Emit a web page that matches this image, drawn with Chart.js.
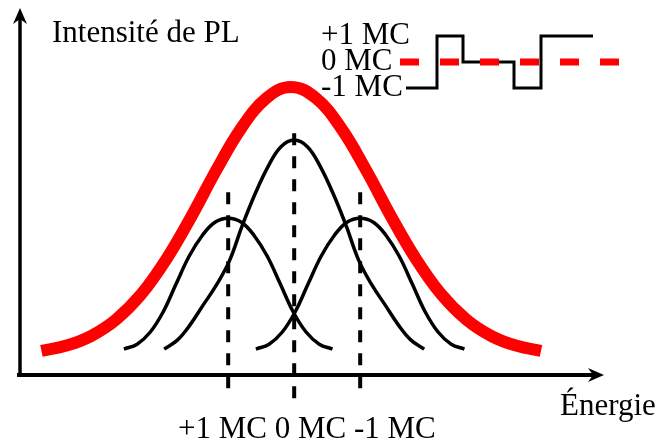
<!DOCTYPE html>
<html lang="fr">
<head>
<meta charset="utf-8">
<title>Intensité de PL</title>
<script src="https://cdn.jsdelivr.net/npm/chart.js@4.4.1/dist/chart.umd.min.js"></script>
<style>
  html, body { margin: 0; padding: 0; background: #fff; }
  #wrap { position: relative; width: 657px; height: 446px; }
  #plChart { position: absolute; left: 0; top: 0; }
  #mcChart { position: absolute; left: 300px; top: 0; }
</style>
</head>
<body>
<div id="wrap">
  <canvas id="plChart" width="657" height="446"></canvas>
  <canvas id="mcChart" width="357" height="120"></canvas>
</div>
<script>
// Énergie en unités arbitraires (0 = raie 0 MC), intensité normalisée
var envelopeX = [-3.83, -3.45, -3.08, -2.70, -2.32, -1.94, -1.56, -1.18, -0.80, -0.42, -0.05,
                 0.33, 0.71, 1.09, 1.47, 1.85, 2.23, 2.61, 2.99, 3.36, 3.74];
var envelopeY = [0.084, 0.102, 0.135, 0.192, 0.279, 0.400, 0.548, 0.709, 0.855, 0.958, 0.997,
                 0.958, 0.855, 0.709, 0.548, 0.400, 0.279, 0.192, 0.135, 0.102, 0.084];

// raie 0 MC
var zeroX = [-1.97, -1.77, -1.58, -1.38, -1.18, -0.98, -0.79, -0.59, -0.39, -0.20, 0,
             0.20, 0.39, 0.59, 0.79, 0.98, 1.18, 1.38, 1.58, 1.77, 1.97];
var zeroY = [0.090, 0.121, 0.173, 0.242, 0.311, 0.396, 0.515, 0.628, 0.724, 0.790, 0.813,
             0.790, 0.724, 0.628, 0.515, 0.396, 0.311, 0.242, 0.173, 0.121, 0.090];

// raie +1 MC (côté basse énergie)
var plusX = [-2.58, -2.38, -2.18, -1.98, -1.79, -1.59, -1.39, -1.20, -1.00,
             -0.80, -0.61, -0.41, -0.21, -0.02, 0.18, 0.38, 0.58];
var plusY = [0.090, 0.107, 0.149, 0.221, 0.315, 0.412, 0.484, 0.529, 0.543,
             0.529, 0.484, 0.412, 0.315, 0.221, 0.149, 0.107, 0.090];

// raie -1 MC (côté haute énergie)
var minusX = [-0.58, -0.38, -0.18, 0.02, 0.21, 0.41, 0.61, 0.80, 1.00,
              1.20, 1.39, 1.59, 1.79, 1.98, 2.18, 2.38, 2.58];
var minusY = [0.090, 0.107, 0.149, 0.221, 0.315, 0.412, 0.484, 0.529, 0.543,
              0.529, 0.484, 0.412, 0.315, 0.221, 0.149, 0.107, 0.090];

// repères verticaux pointillés sous chaque raie
var markerX = [-1, 0, 1];
var markerTop = [0.633, 0.837, 0.633];
var markerBottom = [-0.069, -0.087, -0.069];
var energyLabels = ['+1 MC', '0 MC', '-1 MC'];

// encart : trajectoire de charge du puits (MC) en fonction du temps
var mcTime = [0.6, 3.7, 6.3, 11.4, 14.1, 19.3];
var mcState = [-1, 1, 0, -1, 1, 1];
var meanTime = [0, 21.9];
var meanState = [0, 0];
var mcLevels = [1, 0, -1];
var mcLabels = ['+1 MC', '0 MC', '-1 MC'];

var serif = '"Liberation Serif", "Times New Roman", "DejaVu Serif", serif';

function pts(xs, ys) {
    return xs.map(function(x, i) { return { x: x, y: ys[i] }; });
}

function arrowHead(ctx, x, y, angle) {
    ctx.save();
    ctx.translate(x, y);
    ctx.rotate(angle);
    ctx.beginPath();
    ctx.moveTo(0, 0);
    ctx.lineTo(-7, 16);
    ctx.lineTo(0, 11);
    ctx.lineTo(7, 16);
    ctx.closePath();
    ctx.fill();
    ctx.restore();
}

// axes fléchés + textes
var axesPlugin = {
    id: 'axesArrows',
    beforeDatasetsDraw: function(chart) {
        var ctx = chart.ctx;
        var area = chart.chartArea;
        var ys = chart.scales.y;
        var y0 = ys.getPixelForValue(0);
        var xTip = area.right - 3;
        var yAxisX = area.left + 3;
        var yTip = area.top;

        ctx.save();
        ctx.strokeStyle = '#000';
        ctx.fillStyle = '#000';
        ctx.lineWidth = 4;
        ctx.lineCap = 'butt';
        ctx.beginPath();
        ctx.moveTo(area.left, y0);
        ctx.lineTo(xTip - 10, y0);
        ctx.stroke();
        ctx.lineWidth = 3.5;
        ctx.beginPath();
        ctx.moveTo(yAxisX, y0 + 2);
        ctx.lineTo(yAxisX, yTip + 10);
        ctx.stroke();
        arrowHead(ctx, xTip, y0, Math.PI / 2);
        arrowHead(ctx, yAxisX, yTip, 0);

        ctx.font = '31px ' + serif;
        ctx.textAlign = 'left';
        ctx.textBaseline = 'alphabetic';
        ctx.fillText('Intensité de PL', 52, 42);
        ctx.fillText('Énergie', 560, 415);
        ctx.fillText(energyLabels.join(' '), 178, 438);
        ctx.restore();
    }
};

var curveDatasets = [
    { data: pts(envelopeX, envelopeY), borderColor: '#ff0000', borderWidth: 12 },
    { data: pts(zeroX, zeroY), borderColor: '#000', borderWidth: 3.5 },
    { data: pts(plusX, plusY), borderColor: '#000', borderWidth: 3.5 },
    { data: pts(minusX, minusY), borderColor: '#000', borderWidth: 3.5 }
];
markerX.forEach(function(x, i) {
    curveDatasets.push({
        data: [{ x: x, y: markerTop[i] }, { x: x, y: markerBottom[i] }],
        borderColor: '#000',
        borderWidth: 4,
        borderDash: [12, 11],
        tension: 0
    });
});

new Chart(document.getElementById('plChart'), {
    type: 'line',
    data: { datasets: curveDatasets },
    options: {
        responsive: false,
        animation: false,
        events: [],
        layout: { padding: { left: 17, right: 50, top: 8, bottom: 42 } },
        plugins: { legend: { display: false }, tooltip: { enabled: false } },
        elements: {
            point: { radius: 0 },
            line: { tension: 0.4, fill: false, borderCapStyle: 'butt' }
        },
        scales: {
            x: { type: 'linear', display: false, min: -4.2, max: 4.74 },
            y: { type: 'linear', display: false, min: -0.1, max: 1.27 }
        }
    },
    plugins: [axesPlugin]
});

// encart en haut à droite
new Chart(document.getElementById('mcChart'), {
    type: 'line',
    data: {
        datasets: [
            { data: pts(meanTime, meanState), borderColor: '#ff0000', borderWidth: 7, borderDash: [19, 21] },
            { data: pts(mcTime, mcState), borderColor: '#000', borderWidth: 3, stepped: true, borderJoinStyle: 'miter' }
        ]
    },
    options: {
        responsive: false,
        animation: false,
        events: [],
        layout: { padding: { left: 21, right: 38, top: 23, bottom: 19 } },
        plugins: { legend: { display: false }, tooltip: { enabled: false } },
        elements: { point: { radius: 0 }, line: { tension: 0 } },
        scales: {
            x: { type: 'linear', display: false, min: 0, max: 21.9 },
            y: {
                type: 'linear',
                min: -1.5,
                max: 1.5,
                grid: { display: false },
                border: { display: false },
                afterFit: function(scale) { scale.width = 79; },
                afterBuildTicks: function(scale) {
                    scale.ticks = mcLevels.map(function(v) { return { value: v }; });
                },
                ticks: {
                    autoSkip: false,
                    mirror: true,
                    crossAlign: 'near',
                    padding: -79,
                    color: '#000',
                    font: { family: serif, size: 31, lineHeight: 1 },
                    callback: function(v) { return mcLabels[mcLevels.indexOf(v)]; }
                }
            }
        }
    }
});
</script>
</body>
</html>
